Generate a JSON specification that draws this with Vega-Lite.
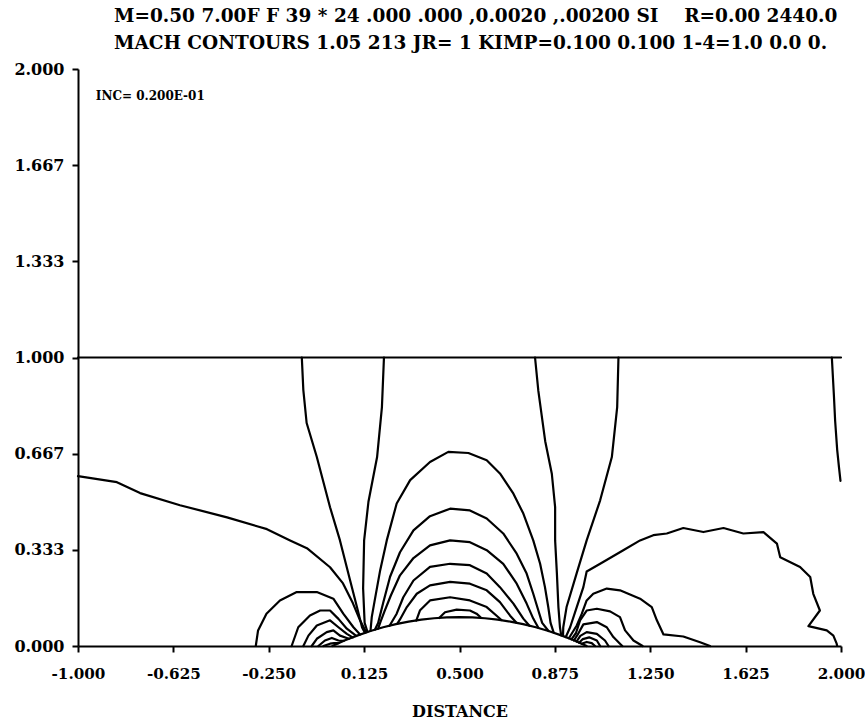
{
  "$schema": "https://vega.github.io/schema/vega-lite/v6.json",
  "width": 763,
  "height": 577,
  "autosize": {"type": "none"},
  "padding": {"left": 78, "top": 69, "right": 24, "bottom": 78},
  "config": {"view": {"stroke": null}, "font": "DejaVu Serif"},
  "title": {
    "text": ["M=0.50 7.00F F 39 * 24 .000 .000 ,0.0020 ,.00200 SI\u00a0\u00a0\u00a0\u00a0R=0.00 2440.0", "MACH CONTOURS 1.05 213 JR= 1 KIMP=0.100 0.100 1-4=1.0 0.0 0."],
    "anchor": "start", "align": "left", "dx": 100,
    "font": "DejaVu Serif", "fontSize": 18.5, "fontWeight": "bold", "color": "black",
    "offset": 9, "lineHeight": 27
  },
  "datasets": {
    "notes": [{"x": -0.93, "y": 1.905, "t": "INC= 0.200E-01"}],
    "lines": [
      {"c":"H","o":0,"x":-1,"y":1},{"c":"H","o":1,"x":2,"y":1},
      {"c":"AF","o":0,"x":0,"y":0},{"c":"AF","o":1,"x":0.05,"y":0.0196},{"c":"AF","o":2,"x":0.1,"y":0.0369},{"c":"AF","o":3,"x":0.15,"y":0.052},{"c":"AF","o":4,"x":0.2,"y":0.0649},{"c":"AF","o":5,"x":0.25,"y":0.0757},{"c":"AF","o":6,"x":0.3,"y":0.0845},{"c":"AF","o":7,"x":0.35,"y":0.0913},{"c":"AF","o":8,"x":0.4,"y":0.0962},{"c":"AF","o":9,"x":0.45,"y":0.099},{"c":"AF","o":10,"x":0.5,"y":0.1},{"c":"AF","o":11,"x":0.55,"y":0.099},{"c":"AF","o":12,"x":0.6,"y":0.0962},{"c":"AF","o":13,"x":0.65,"y":0.0913},{"c":"AF","o":14,"x":0.7,"y":0.0845},{"c":"AF","o":15,"x":0.75,"y":0.0757},{"c":"AF","o":16,"x":0.8,"y":0.0649},{"c":"AF","o":17,"x":0.85,"y":0.052},{"c":"AF","o":18,"x":0.9,"y":0.0369},{"c":"AF","o":19,"x":0.95,"y":0.0196},{"c":"AF","o":20,"x":1,"y":0},
      {"c":"C1","o":0,"x":-1,"y":0.589},{"c":"C1","o":1,"x":-0.847,"y":0.568},{"c":"C1","o":2,"x":-0.756,"y":0.53},{"c":"C1","o":3,"x":-0.599,"y":0.488},{"c":"C1","o":4,"x":-0.414,"y":0.446},{"c":"C1","o":5,"x":-0.296,"y":0.415},{"c":"C1","o":6,"x":-0.257,"y":0.405},{"c":"C1","o":7,"x":-0.166,"y":0.366},{"c":"C1","o":8,"x":-0.1,"y":0.339},{"c":"C1","o":9,"x":-0.009,"y":0.273},{"c":"C1","o":10,"x":0.042,"y":0.217},{"c":"C1","o":11,"x":0.081,"y":0.148},{"c":"C1","o":12,"x":0.109,"y":0.089},{"c":"C1","o":13,"x":0.127,"y":0.058},{"c":"C1","o":14,"x":0.135,"y":0.048},
      {"c":"V1","o":0,"x":-0.12,"y":1},{"c":"V1","o":1,"x":-0.114,"y":0.887},{"c":"V1","o":2,"x":-0.101,"y":0.773},{"c":"V1","o":3,"x":-0.061,"y":0.655},{"c":"V1","o":4,"x":-0.009,"y":0.481},{"c":"V1","o":5,"x":0.03,"y":0.366},{"c":"V1","o":6,"x":0.07,"y":0.227},{"c":"V1","o":7,"x":0.097,"y":0.134},{"c":"V1","o":8,"x":0.117,"y":0.064},{"c":"V1","o":9,"x":0.128,"y":0.046},
      {"c":"V2","o":0,"x":0.203,"y":1},{"c":"V2","o":1,"x":0.195,"y":0.828},{"c":"V2","o":2,"x":0.176,"y":0.655},{"c":"V2","o":3,"x":0.142,"y":0.5},{"c":"V2","o":4,"x":0.125,"y":0.366},{"c":"V2","o":5,"x":0.121,"y":0.2},{"c":"V2","o":6,"x":0.127,"y":0.08},{"c":"V2","o":7,"x":0.138,"y":0.049},
      {"c":"L1","o":0,"x":-0.301,"y":0},{"c":"L1","o":1,"x":-0.292,"y":0.054},{"c":"L1","o":2,"x":-0.259,"y":0.112},{"c":"L1","o":3,"x":-0.206,"y":0.158},{"c":"L1","o":4,"x":-0.14,"y":0.187},{"c":"L1","o":5,"x":-0.061,"y":0.187},{"c":"L1","o":6,"x":0.004,"y":0.164},{"c":"L1","o":7,"x":0.043,"y":0.112},{"c":"L1","o":8,"x":0.083,"y":0.065},{"c":"L1","o":9,"x":0.109,"y":0.04},
      {"c":"L2","o":0,"x":-0.16,"y":0},{"c":"L2","o":1,"x":-0.134,"y":0.065},{"c":"L2","o":2,"x":-0.088,"y":0.106},{"c":"L2","o":3,"x":-0.048,"y":0.123},{"c":"L2","o":4,"x":-0.009,"y":0.123},{"c":"L2","o":5,"x":0.024,"y":0.094},{"c":"L2","o":6,"x":0.057,"y":0.06},{"c":"L2","o":7,"x":0.094,"y":0.035},
      {"c":"L3","o":0,"x":-0.114,"y":0},{"c":"L3","o":1,"x":-0.094,"y":0.036},{"c":"L3","o":2,"x":-0.061,"y":0.071},{"c":"L3","o":3,"x":-0.009,"y":0.089},{"c":"L3","o":4,"x":0.024,"y":0.065},{"c":"L3","o":5,"x":0.057,"y":0.042},{"c":"L3","o":6,"x":0.08,"y":0.03},
      {"c":"L4","o":0,"x":-0.081,"y":0},{"c":"L4","o":1,"x":-0.061,"y":0.025},{"c":"L4","o":2,"x":-0.022,"y":0.048},{"c":"L4","o":3,"x":0.004,"y":0.054},{"c":"L4","o":4,"x":0.03,"y":0.036},{"c":"L4","o":5,"x":0.065,"y":0.025},
      {"c":"L5","o":0,"x":-0.055,"y":0},{"c":"L5","o":1,"x":-0.029,"y":0.019},{"c":"L5","o":2,"x":-0.002,"y":0.028},{"c":"L5","o":3,"x":0.024,"y":0.019},{"c":"L5","o":4,"x":0.045,"y":0.0178},
      {"c":"L6","o":0,"x":-0.035,"y":0},{"c":"L6","o":1,"x":-0.009,"y":0.008},{"c":"L6","o":2,"x":0.007,"y":0.01},{"c":"L6","o":3,"x":0.025,"y":0.0101},
      {"c":"A1","o":0,"x":0.15,"y":0.052},{"c":"A1","o":1,"x":0.155,"y":0.1},{"c":"A1","o":2,"x":0.167,"y":0.16},{"c":"A1","o":3,"x":0.188,"y":0.262},{"c":"A1","o":4,"x":0.214,"y":0.366},{"c":"A1","o":5,"x":0.253,"y":0.494},{"c":"A1","o":6,"x":0.306,"y":0.575},{"c":"A1","o":7,"x":0.384,"y":0.638},{"c":"A1","o":8,"x":0.456,"y":0.673},{"c":"A1","o":9,"x":0.535,"y":0.669},{"c":"A1","o":10,"x":0.607,"y":0.644},{"c":"A1","o":11,"x":0.659,"y":0.598},{"c":"A1","o":12,"x":0.712,"y":0.528},{"c":"A1","o":13,"x":0.751,"y":0.459},{"c":"A1","o":14,"x":0.79,"y":0.366},{"c":"A1","o":15,"x":0.817,"y":0.285},{"c":"A1","o":16,"x":0.836,"y":0.204},{"c":"A1","o":17,"x":0.849,"y":0.135},{"c":"A1","o":18,"x":0.858,"y":0.08},{"c":"A1","o":19,"x":0.87,"y":0.047},
      {"c":"A2","o":0,"x":0.168,"y":0.057},{"c":"A2","o":1,"x":0.18,"y":0.08},{"c":"A2","o":2,"x":0.2,"y":0.15},{"c":"A2","o":3,"x":0.227,"y":0.24},{"c":"A2","o":4,"x":0.266,"y":0.325},{"c":"A2","o":5,"x":0.319,"y":0.401},{"c":"A2","o":6,"x":0.384,"y":0.45},{"c":"A2","o":7,"x":0.463,"y":0.476},{"c":"A2","o":8,"x":0.541,"y":0.47},{"c":"A2","o":9,"x":0.607,"y":0.442},{"c":"A2","o":10,"x":0.672,"y":0.39},{"c":"A2","o":11,"x":0.725,"y":0.32},{"c":"A2","o":12,"x":0.764,"y":0.251},{"c":"A2","o":13,"x":0.79,"y":0.181},{"c":"A2","o":14,"x":0.81,"y":0.123},{"c":"A2","o":15,"x":0.825,"y":0.08},{"c":"A2","o":16,"x":0.85,"y":0.052},
      {"c":"A3","o":0,"x":0.18,"y":0.06},{"c":"A3","o":1,"x":0.19,"y":0.085},{"c":"A3","o":2,"x":0.205,"y":0.12},{"c":"A3","o":3,"x":0.23,"y":0.175},{"c":"A3","o":4,"x":0.266,"y":0.245},{"c":"A3","o":5,"x":0.319,"y":0.305},{"c":"A3","o":6,"x":0.384,"y":0.349},{"c":"A3","o":7,"x":0.463,"y":0.366},{"c":"A3","o":8,"x":0.541,"y":0.36},{"c":"A3","o":9,"x":0.607,"y":0.332},{"c":"A3","o":10,"x":0.672,"y":0.285},{"c":"A3","o":11,"x":0.725,"y":0.216},{"c":"A3","o":12,"x":0.764,"y":0.147},{"c":"A3","o":13,"x":0.79,"y":0.095},{"c":"A3","o":14,"x":0.81,"y":0.063},
      {"c":"A4","o":0,"x":0.225,"y":0.07},{"c":"A4","o":1,"x":0.253,"y":0.112},{"c":"A4","o":2,"x":0.279,"y":0.169},{"c":"A4","o":3,"x":0.319,"y":0.227},{"c":"A4","o":4,"x":0.384,"y":0.274},{"c":"A4","o":5,"x":0.463,"y":0.285},{"c":"A4","o":6,"x":0.541,"y":0.28},{"c":"A4","o":7,"x":0.607,"y":0.251},{"c":"A4","o":8,"x":0.659,"y":0.204},{"c":"A4","o":9,"x":0.712,"y":0.147},{"c":"A4","o":10,"x":0.751,"y":0.095},{"c":"A4","o":11,"x":0.775,"y":0.07},
      {"c":"A5","o":0,"x":0.255,"y":0.077},{"c":"A5","o":1,"x":0.266,"y":0.092},{"c":"A5","o":2,"x":0.293,"y":0.135},{"c":"A5","o":3,"x":0.332,"y":0.181},{"c":"A5","o":4,"x":0.384,"y":0.21},{"c":"A5","o":5,"x":0.463,"y":0.222},{"c":"A5","o":6,"x":0.541,"y":0.216},{"c":"A5","o":7,"x":0.607,"y":0.193},{"c":"A5","o":8,"x":0.659,"y":0.152},{"c":"A5","o":9,"x":0.699,"y":0.105},{"c":"A5","o":10,"x":0.725,"y":0.08},
      {"c":"A6","o":0,"x":0.33,"y":0.088},{"c":"A6","o":1,"x":0.345,"y":0.124},{"c":"A6","o":2,"x":0.384,"y":0.158},{"c":"A6","o":3,"x":0.463,"y":0.169},{"c":"A6","o":4,"x":0.541,"y":0.158},{"c":"A6","o":5,"x":0.607,"y":0.135},{"c":"A6","o":6,"x":0.646,"y":0.105},{"c":"A6","o":7,"x":0.665,"y":0.09},
      {"c":"A7","o":0,"x":0.42,"y":0.097},{"c":"A7","o":1,"x":0.443,"y":0.117},{"c":"A7","o":2,"x":0.489,"y":0.126},{"c":"A7","o":3,"x":0.541,"y":0.123},{"c":"A7","o":4,"x":0.567,"y":0.112},{"c":"A7","o":5,"x":0.585,"y":0.098},
      {"c":"V3","o":0,"x":0.797,"y":1},{"c":"V3","o":1,"x":0.81,"y":0.884},{"c":"V3","o":2,"x":0.837,"y":0.71},{"c":"V3","o":3,"x":0.863,"y":0.597},{"c":"V3","o":4,"x":0.876,"y":0.481},{"c":"V3","o":5,"x":0.876,"y":0.366},{"c":"V3","o":6,"x":0.883,"y":0.25},{"c":"V3","o":7,"x":0.889,"y":0.134},{"c":"V3","o":8,"x":0.895,"y":0.065},{"c":"V3","o":9,"x":0.9,"y":0.037},
      {"c":"V4","o":0,"x":1.125,"y":1},{"c":"V4","o":1,"x":1.12,"y":0.828},{"c":"V4","o":2,"x":1.099,"y":0.655},{"c":"V4","o":3,"x":1.053,"y":0.505},{"c":"V4","o":4,"x":1,"y":0.366},{"c":"V4","o":5,"x":0.96,"y":0.25},{"c":"V4","o":6,"x":0.921,"y":0.135},{"c":"V4","o":7,"x":0.908,"y":0.065},{"c":"V4","o":8,"x":0.907,"y":0.035},
      {"c":"V5","o":0,"x":1.964,"y":1},{"c":"V5","o":1,"x":1.972,"y":0.87},{"c":"V5","o":2,"x":1.977,"y":0.78},{"c":"V5","o":3,"x":1.985,"y":0.68},{"c":"V5","o":4,"x":1.992,"y":0.62},{"c":"V5","o":5,"x":1.998,"y":0.572},
      {"c":"R1","o":0,"x":0.918,"y":0.031},{"c":"R1","o":1,"x":0.935,"y":0.065},{"c":"R1","o":2,"x":0.961,"y":0.135},{"c":"R1","o":3,"x":0.987,"y":0.204},{"c":"R1","o":4,"x":1.0,"y":0.258},{"c":"R1","o":5,"x":1.053,"y":0.285},{"c":"R1","o":6,"x":1.144,"y":0.332},{"c":"R1","o":7,"x":1.21,"y":0.366},{"c":"R1","o":8,"x":1.262,"y":0.384},{"c":"R1","o":9,"x":1.315,"y":0.39},{"c":"R1","o":10,"x":1.38,"y":0.409},{"c":"R1","o":11,"x":1.459,"y":0.395},{"c":"R1","o":12,"x":1.538,"y":0.409},{"c":"R1","o":13,"x":1.616,"y":0.39},{"c":"R1","o":14,"x":1.695,"y":0.395},{"c":"R1","o":15,"x":1.748,"y":0.355},{"c":"R1","o":16,"x":1.761,"y":0.308},{"c":"R1","o":17,"x":1.839,"y":0.274},{"c":"R1","o":18,"x":1.879,"y":0.239},{"c":"R1","o":19,"x":1.891,"y":0.181},{"c":"R1","o":20,"x":1.917,"y":0.123},{"c":"R1","o":21,"x":1.872,"y":0.069},{"c":"R1","o":22,"x":1.944,"y":0.054},{"c":"R1","o":23,"x":1.97,"y":0.036},{"c":"R1","o":24,"x":1.983,"y":0.008},{"c":"R1","o":25,"x":1.985,"y":0},
      {"c":"RL1","o":0,"x":0.93,"y":0.027},{"c":"RL1","o":1,"x":0.961,"y":0.071},{"c":"RL1","o":2,"x":0.981,"y":0.112},{"c":"RL1","o":3,"x":1.0,"y":0.158},{"c":"RL1","o":4,"x":1.026,"y":0.181},{"c":"RL1","o":5,"x":1.079,"y":0.199},{"c":"RL1","o":6,"x":1.131,"y":0.193},{"c":"RL1","o":7,"x":1.21,"y":0.164},{"c":"RL1","o":8,"x":1.256,"y":0.135},{"c":"RL1","o":9,"x":1.276,"y":0.089},{"c":"RL1","o":10,"x":1.302,"y":0.04},{"c":"RL1","o":11,"x":1.38,"y":0.033},{"c":"RL1","o":12,"x":1.446,"y":0.013},{"c":"RL1","o":13,"x":1.485,"y":0},
      {"c":"RL2","o":0,"x":0.94,"y":0.023},{"c":"RL2","o":1,"x":0.958,"y":0.045},{"c":"RL2","o":2,"x":0.974,"y":0.089},{"c":"RL2","o":3,"x":1.0,"y":0.123},{"c":"RL2","o":4,"x":1.04,"y":0.129},{"c":"RL2","o":5,"x":1.092,"y":0.12},{"c":"RL2","o":6,"x":1.131,"y":0.1},{"c":"RL2","o":7,"x":1.151,"y":0.054},{"c":"RL2","o":8,"x":1.184,"y":0.019},{"c":"RL2","o":9,"x":1.22,"y":0},
      {"c":"RL3","o":0,"x":0.95,"y":0.019},{"c":"RL3","o":1,"x":0.965,"y":0.04},{"c":"RL3","o":2,"x":0.987,"y":0.075},{"c":"RL3","o":3,"x":1.04,"y":0.083},{"c":"RL3","o":4,"x":1.079,"y":0.065},{"c":"RL3","o":5,"x":1.105,"y":0.031},{"c":"RL3","o":6,"x":1.131,"y":0.008},{"c":"RL3","o":7,"x":1.14,"y":0},
      {"c":"RL4","o":0,"x":0.96,"y":0.015},{"c":"RL4","o":1,"x":0.975,"y":0.035},{"c":"RL4","o":2,"x":1.0,"y":0.048},{"c":"RL4","o":3,"x":1.04,"y":0.042},{"c":"RL4","o":4,"x":1.072,"y":0.019},{"c":"RL4","o":5,"x":1.086,"y":0},
      {"c":"RL5","o":0,"x":0.97,"y":0.011},{"c":"RL5","o":1,"x":0.985,"y":0.024},{"c":"RL5","o":2,"x":1.01,"y":0.03},{"c":"RL5","o":3,"x":1.04,"y":0.019},{"c":"RL5","o":4,"x":1.053,"y":0},
      {"c":"RL6","o":0,"x":0.98,"y":0.008},{"c":"RL6","o":1,"x":1.0,"y":0.014},{"c":"RL6","o":2,"x":1.02,"y":0.01},{"c":"RL6","o":3,"x":1.033,"y":0}
    ]
  },
  "layer": [
    {
      "data": {"name": "lines"},
      "mark": {"type": "line", "color": "black", "strokeWidth": 2.2, "strokeJoin": "round", "strokeCap": "round"},
      "encoding": {
        "x": {"field": "x", "type": "quantitative",
              "scale": {"domain": [-1, 2], "nice": false, "zero": false},
              "axis": {"values": [-1, -0.625, -0.25, 0.125, 0.5, 0.875, 1.25, 1.625, 2],
                       "labelExpr": "replace(format(datum.value, '.3f'), '\u2212', '-')",
                       "title": "DISTANCE", "titleFont": "DejaVu Serif", "titleFontSize": 16, "titleFontWeight": "bold", "titleColor": "black", "titlePadding": 22,
                       "labelFont": "DejaVu Serif", "labelFontSize": 15.2, "labelFontWeight": "bold", "labelColor": "black", "labelPadding": 14,
                       "labelFlush": false, "labelOverlap": false,
                       "tickSize": 6, "tickWidth": 2, "tickColor": "black", "domainColor": "black", "domainWidth": 2, "grid": false}},
        "y": {"field": "y", "type": "quantitative",
              "scale": {"domain": [0, 2], "nice": false, "zero": false},
              "axis": {"values": [0, 0.3333333, 0.6666667, 1, 1.3333333, 1.6666667, 2],
                       "format": ".3f", "title": null,
                       "labelFont": "DejaVu Serif", "labelFontSize": 16, "labelFontWeight": "bold", "labelColor": "black", "labelPadding": 8,
                       "labelFlush": false, "labelOverlap": false,
                       "tickSize": 6, "tickWidth": 2, "tickColor": "black", "domainColor": "black", "domainWidth": 2, "grid": false}},
        "detail": {"field": "c"},
        "order": {"field": "o", "type": "quantitative"}
      }
    },
    {
      "data": {"name": "notes"},
      "mark": {"type": "text", "align": "left", "baseline": "middle", "font": "DejaVu Serif", "fontWeight": "bold", "fontSize": 12, "color": "black"},
      "encoding": {
        "x": {"field": "x", "type": "quantitative"},
        "y": {"field": "y", "type": "quantitative"},
        "text": {"field": "t"}
      }
    }
  ]
}
